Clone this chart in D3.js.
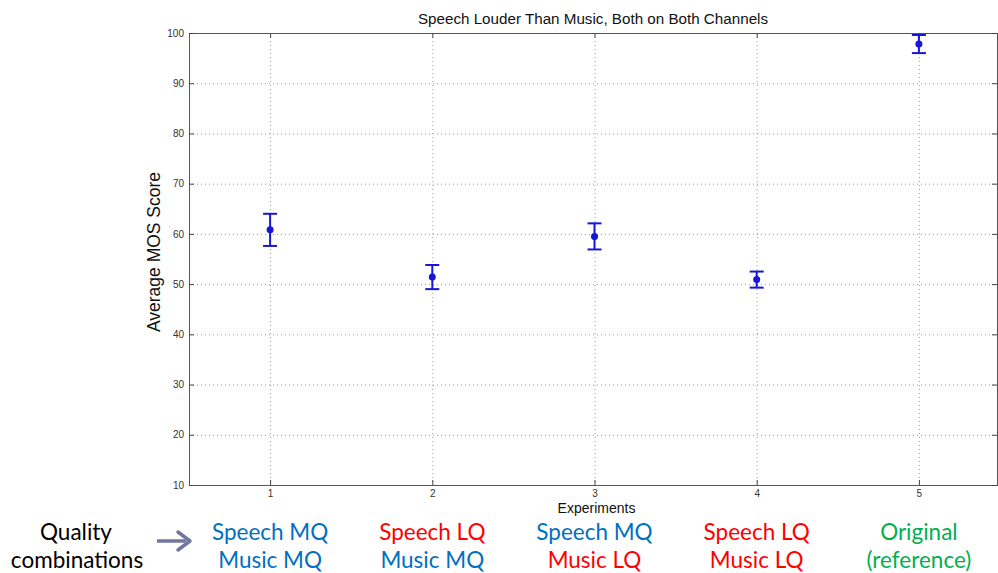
<!DOCTYPE html>
<html>
<head>
<meta charset="utf-8">
<script src="https://cdn.jsdelivr.net/npm/d3@7"></script>
<style>
  html, body { margin: 0; padding: 0; background: #fff; }
  svg { display: block; }
</style>
</head>
<body>
<svg id="chart" width="998" height="573"></svg>
<script>
// Experiment numbers, mean MOS and half-width of error bars
const experiments = [1, 2, 3, 4, 5];
const meanScores = [60.8, 51.4, 59.5, 50.9, 97.8];
const errorHalf = [3.2, 2.4, 2.6, 1.6, 1.8];
const yTicks = [10, 20, 30, 40, 50, 60, 70, 80, 90, 100];

// Quality combination labels under each experiment
const speechLabels = ["Speech MQ", "Speech LQ", "Speech MQ", "Speech LQ", "Original"];
const musicLabels = ["Music MQ", "Music MQ", "Music LQ", "Music LQ", "(reference)"];
const speechColors = ["#0070c0", "#ff0000", "#0070c0", "#ff0000", "#00b050"];
const musicColors = ["#0070c0", "#0070c0", "#ff0000", "#ff0000", "#00b050"];

const svg = d3.select("#chart");
const L = 189, R = 1000, T = 33, B = 485;
const sans = "Liberation Sans, Arial, sans-serif";

const x = d3.scaleLinear().domain([0.5, 5.5]).range([L, R]);
const y = d3.scaleLinear().domain([10, 100]).range([B, T]);

// dotted grid
const grid = svg.append("g").attr("stroke", "#9a9a9a").attr("stroke-width", 1)
  .attr("stroke-dasharray", "1,3");
grid.selectAll(".gx").data(experiments).enter().append("line")
  .attr("x1", d => x(d) + 0.5).attr("x2", d => x(d) + 0.5)
  .attr("y1", T).attr("y2", B);
grid.selectAll(".gy").data(yTicks.slice(1, -1)).enter().append("line")
  .attr("x1", L).attr("x2", R)
  .attr("y1", d => y(d) + 0.5).attr("y2", d => y(d) + 0.5);

// axes with inward ticks on all four sides
const tickFont = g => g.selectAll("text")
  .attr("font-family", sans).attr("font-size", 10).attr("fill", "#333");

svg.append("g").attr("transform", `translate(0,${B})`)
  .call(d3.axisBottom(x).tickValues(experiments).tickFormat(d3.format("d"))
    .tickSizeInner(-5).tickSizeOuter(0).tickPadding(5))
  .call(g => g.select(".domain").attr("stroke", "#555"))
  .call(g => g.selectAll(".tick line").attr("stroke", "#444"))
  .call(tickFont);

svg.append("g").attr("transform", `translate(0,${T})`)
  .call(d3.axisTop(x).tickValues(experiments).tickFormat("")
    .tickSizeInner(-5).tickSizeOuter(0))
  .call(g => g.select(".domain").attr("stroke", "#555"))
  .call(g => g.selectAll(".tick line").attr("stroke", "#444"));

svg.append("g").attr("transform", `translate(${L},0)`)
  .call(d3.axisLeft(y).tickValues(yTicks).tickFormat(d3.format("d"))
    .tickSizeInner(-5).tickSizeOuter(0).tickPadding(5))
  .call(g => g.select(".domain").attr("stroke", "#555"))
  .call(g => g.selectAll(".tick line").attr("stroke", "#444"))
  .call(tickFont);

svg.append("g").attr("transform", `translate(${R - 3},0)`)
  .call(d3.axisRight(y).tickValues(yTicks).tickFormat("")
    .tickSizeInner(-5).tickSizeOuter(0))
  .call(g => g.select(".domain").attr("stroke", "#555"))
  .call(g => g.selectAll(".tick line").attr("stroke", "#444"));

// error bars and mean markers
const blue = "#1616d8";
const pts = experiments.map((e, i) => ({ e, m: meanScores[i], h: errorHalf[i] }));
const eb = svg.append("g").attr("stroke", blue).attr("stroke-width", 2);
eb.selectAll(".v").data(pts).enter().append("line")
  .attr("x1", d => x(d.e)).attr("x2", d => x(d.e))
  .attr("y1", d => y(d.m + d.h)).attr("y2", d => y(d.m - d.h));
eb.selectAll(".ct").data(pts).enter().append("line")
  .attr("x1", d => x(d.e) - 7).attr("x2", d => x(d.e) + 7)
  .attr("y1", d => y(d.m + d.h)).attr("y2", d => y(d.m + d.h));
eb.selectAll(".cb").data(pts).enter().append("line")
  .attr("x1", d => x(d.e) - 7).attr("x2", d => x(d.e) + 7)
  .attr("y1", d => y(d.m - d.h)).attr("y2", d => y(d.m - d.h));
svg.append("g").selectAll("circle").data(pts).enter().append("circle")
  .attr("cx", d => x(d.e)).attr("cy", d => y(d.m)).attr("r", 3.5)
  .attr("fill", blue);

// titles
svg.append("text").attr("x", 593).attr("y", 24)
  .attr("text-anchor", "middle").attr("font-family", sans)
  .attr("font-size", 15.2).attr("fill", "#111")
  .text("Speech Louder Than Music, Both on Both Channels");
svg.append("text").attr("x", x(3) + 2).attr("y", 513)
  .attr("text-anchor", "middle").attr("font-family", sans)
  .attr("font-size", 14).attr("fill", "#111").text("Experiments");
svg.append("text").attr("transform", `translate(160,${(T + B) / 2 - 7}) rotate(-90)`)
  .attr("text-anchor", "middle").attr("font-family", sans)
  .attr("font-size", 17.5).attr("fill", "#111").text("Average MOS Score");

// quality combination labels
const labFont = "Lato, 'Open Sans', sans-serif";
const labs = svg.append("g").attr("font-family", labFont).attr("font-size", 22.5)
  .attr("text-anchor", "middle");
labs.selectAll(".s").data(experiments).enter().append("text")
  .attr("x", d => x(d)).attr("y", 540)
  .attr("fill", (d, i) => speechColors[i]).text((d, i) => speechLabels[i]);
labs.selectAll(".m").data(experiments).enter().append("text")
  .attr("x", d => x(d)).attr("y", 568)
  .attr("fill", (d, i) => musicColors[i]).text((d, i) => musicLabels[i]);

labs.append("text").attr("x", 76).attr("y", 540).attr("fill", "#000").text("Quality");
labs.append("text").attr("x", 77).attr("y", 568).attr("fill", "#000").text("combinations");

// arrow pointing to the labels
svg.append("line").attr("x1", 157).attr("x2", 186).attr("y1", 541).attr("y2", 541)
  .attr("stroke", "#7177a0").attr("stroke-width", 3.5);
svg.append("path").attr("d", "M178,532 L190,541 L178,550")
  .attr("fill", "none").attr("stroke", "#7177a0").attr("stroke-width", 3.5)
  .attr("stroke-linecap", "round").attr("stroke-linejoin", "round");
</script>
</body>
</html>
